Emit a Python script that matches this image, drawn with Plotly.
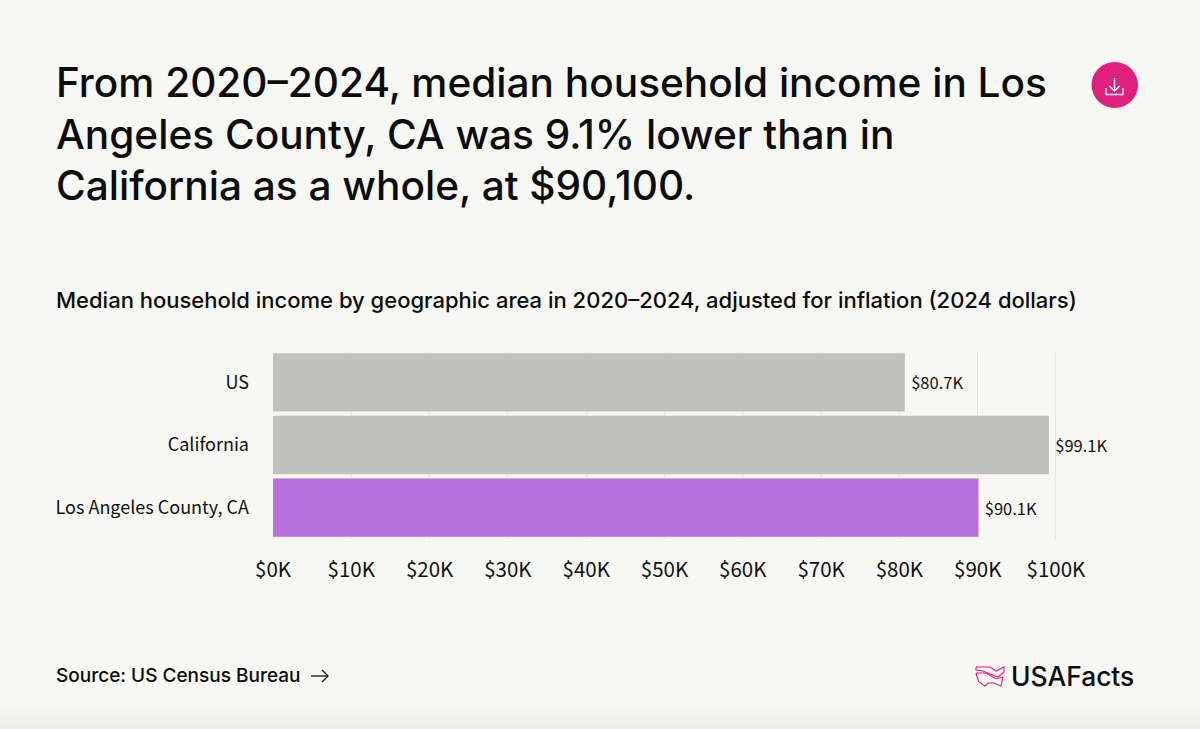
import plotly.graph_objects as go

W = 1200
H = 729
BG = "#f7f7f3"
PINK = "#e0207f"
HEAD_FONT = "Inter"
CHART_FONT = "Noto Sans CJK SC"

categories = ["US", "California", "Los Angeles County, CA"]
income = [80.7, 99.1, 90.1]
bar_labels = ["$80.7K", "$99.1K", "$90.1K"]
bar_colors = ["#c0c1bc", "#c0c1bc", "#b870dc"]
tick_vals = [0, 10, 20, 30, 40, 50, 60, 70, 80, 90, 100]
tick_text = ["$0K", "$10K", "$20K", "$30K", "$40K", "$50K", "$60K", "$70K", "$80K", "$90K", "$100K"]
title_lines = [
    "From 2020–2024, median household income in Los",
    "Angeles County, CA was 9.1% lower than in",
    "California as a whole, at $90,100.",
]
subtitle = "Median household income by geographic area in 2020–2024, adjusted for inflation (2024 dollars)"
source = "Source: US Census Bureau"


def px(x):
    return x / W


def py(y):
    return 1 - y / H


def svg(points):
    # pixel points -> paper path, for the decorations only
    return "M " + " L ".join(f"{px(x):.5f},{py(y):.5f}" for x, y in points)


def label(x, y, text, size, weight=500):
    fig.add_annotation(x=px(x), y=py(y), xref="paper", yref="paper", text=text, showarrow=False,
                       xanchor="left", yanchor="middle", borderpad=0, borderwidth=0,
                       font=dict(family=HEAD_FONT, size=size, color="#0c0c0c", weight=weight))


def line(points, color, width):
    fig.add_shape(type="path", path=svg(points), xref="paper", yref="paper",
                  line=dict(color=color, width=width), layer="above")


fig = go.Figure()
fig.add_trace(go.Bar(
    y=categories, x=income, orientation="h", width=0.93,
    marker=dict(color=bar_colors, line=dict(width=0)),
    text=bar_labels, texttemplate="\u2009%{text}", textposition="outside", cliponaxis=False,
    textfont=dict(family=CHART_FONT, size=16.5, color="#111111"),
))

fig.update_layout(
    width=W, height=H, margin=dict(l=0, r=0, t=0, b=0),
    paper_bgcolor=BG, plot_bgcolor=BG, showlegend=False,
    font=dict(family=CHART_FONT, color="#111111"),
)
# range runs a little past 100 so plotly keeps the last gridline
fig.update_xaxes(domain=[px(273), px(1059.9)], range=[0, 100.5], tickvals=tick_vals, ticktext=tick_text,
                 tickfont=dict(family=CHART_FONT, size=20.5), ticks="", ticklabelstandoff=16, automargin=False,
                 showgrid=True, gridcolor="#e6e6e2", gridwidth=1, zeroline=False, showline=False)
fig.update_yaxes(domain=[py(539), py(351)], autorange="reversed", ticks="", ticklabelstandoff=23, automargin=False,
                 tickfont=dict(family=CHART_FONT, size=18), showgrid=False, showline=False)

for i, t in enumerate(title_lines):
    label(56, 83 + i * 51.5, t, 40.6)
label(56, 300, subtitle, 22)
label(56, 675, source, 19)
label(1011, 676, "USAFacts", 26.4)

# source arrow
line([(311, 676), (328, 676)], "#111111", 1.3)
line([(322, 670), (328, 676), (322, 682)], "#111111", 1.3)

# download button
fig.add_shape(type="circle", xref="paper", yref="paper", x0=px(1091.5), x1=px(1138), y0=py(108), y1=py(62),
              fillcolor=PINK, line=dict(width=0))
line([(1114.5, 78), (1114.5, 90)], "#ffffff", 1.4)
line([(1109.5, 86), (1114.5, 91), (1119.5, 86)], "#ffffff", 1.4)
line([(1106, 88), (1106, 94.5), (1123, 94.5), (1123, 88)], "#ffffff", 1.4)

# logo outline
line([(976, 667), (990, 667), (996, 671), (1004, 667), (1004, 672), (998, 677), (990, 674), (983, 671), (976, 670), (976, 667)], PINK, 1.1)
line([(976, 673), (986, 673), (996, 679), (1003, 677), (1001, 686), (994, 683), (988, 683), (985, 686), (979, 682), (977, 677), (976, 673)], PINK, 1.1)

# faint shading at the bottom of the page
shade = ["#f6f6f2", "#f4f4f1", "#f2f2ef", "#f0f0ed", "#eeeeeb"]
for i, c in enumerate(shade):
    fig.add_shape(type="rect", xref="paper", yref="paper", x0=0, x1=1, y0=0, y1=py(704 + i * 5),
                  fillcolor=c, line=dict(width=0), layer="below")

fig.write_html("out.html", config=dict(displayModeBar=False), post_script="document.body.style.margin='0';")
